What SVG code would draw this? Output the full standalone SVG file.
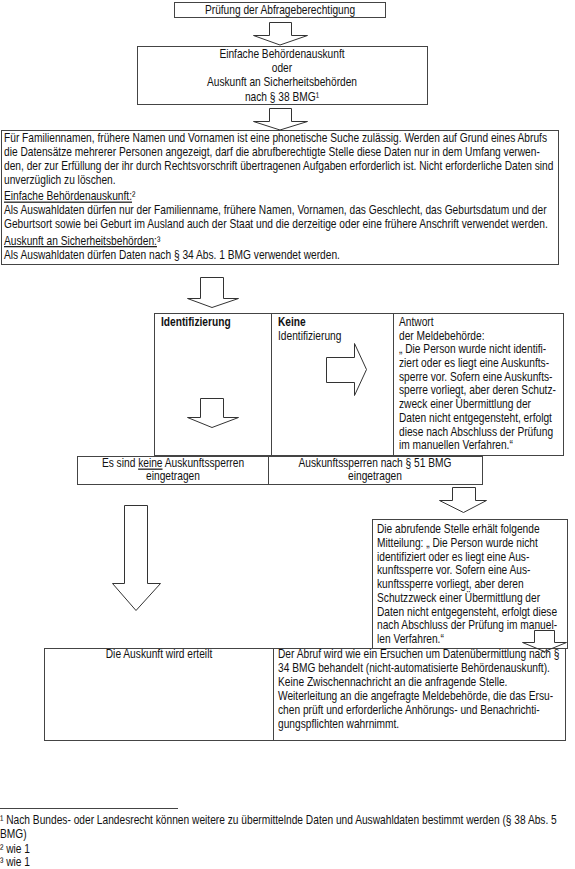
<svg xmlns="http://www.w3.org/2000/svg" width="575" height="869" viewBox="0 0 575 869">
<style>
text{font-family:"Liberation Sans Narrow","Arial Narrow","Liberation Sans",sans-serif;font-size:12px;fill:#111}
.c{text-anchor:middle}
.b{font-weight:bold}
.u{text-decoration:underline}
.box{fill:#fff;stroke:#444;stroke-width:1}
.arr{fill:#fff;stroke:#333;stroke-width:1}
.arrn{fill:none;stroke:#333;stroke-width:1}
</style>
<rect width="575" height="869" fill="#fff"/>
<g id="n-pruefung">
<rect class="box" x="174.5" y="2.5" width="211" height="15"/>
<g transform="scale(0.85 1)">
<text class="c" x="329.41" y="14">Prüfung der Abfrageberechtigung</text>
</g>
</g>
<g id="n-auskunftsart">
<rect class="box" x="137.5" y="46.5" width="290" height="58"/>
<g transform="scale(0.85 1)">
<text class="c" x="331.76" y="58">Einfache Behördenauskunft</text>
<text class="c" x="331.76" y="72">oder</text>
<text class="c" x="331.76" y="86.5">Auskunft an Sicherheitsbehörden</text>
<text class="c" x="331.76" y="101">nach § 38 BMG¹</text>
</g>
</g>
<g id="n-suche">
<rect class="box" x="1.5" y="130.5" width="557" height="134"/>
<g transform="scale(0.85 1)">
<text x="4.71" y="142">Für Familiennamen, frühere Namen und Vornamen ist eine phonetische Suche zulässig. Werden auf Grund eines Abrufs</text>
<text x="4.71" y="156">die Datensätze mehrerer Personen angezeigt, darf die abrufberechtigte Stelle diese Daten nur in dem Umfang verwen-</text>
<text x="4.71" y="170">den, der zur Erfüllung der ihr durch Rechtsvorschrift übertragenen Aufgaben erforderlich ist. Nicht erforderliche Daten sind</text>
<text x="4.71" y="184">unverzüglich zu löschen.</text>
<text x="4.71" y="200.5"><tspan class="u">Einfache Behördenauskunft:</tspan>²</text>
<text x="4.71" y="214.5">Als Auswahldaten dürfen nur der Familienname, frühere Namen, Vornamen, das Geschlecht, das Geburtsdatum und der</text>
<text x="4.71" y="228.5">Geburtsort sowie bei Geburt im Ausland auch der Staat und die derzeitige oder eine frühere Anschrift verwendet werden.</text>
<text x="4.71" y="245"><tspan class="u">Auskunft an Sicherheitsbehörden:</tspan>³</text>
<text x="4.71" y="259">Als Auswahldaten dürfen Daten nach § 34 Abs. 1 BMG verwendet werden.</text>
</g>
</g>
<g id="n-identifizierung">
<rect class="box" x="154.5" y="313.5" width="117" height="142"/>
<g transform="scale(0.85 1)">
<text class="b" x="189.41" y="326">Identifizierung</text>
</g>
</g>
<g id="n-keine-identifizierung">
<rect class="box" x="271.5" y="313.5" width="122" height="142"/>
<g transform="scale(0.85 1)">
<text class="b" x="327.06" y="326">Keine</text>
<text x="327.06" y="340">Identifizierung</text>
</g>
</g>
<g id="n-antwort">
<rect class="box" x="393.5" y="313.5" width="170" height="142"/>
<g transform="scale(0.85 1)">
<text x="469.41" y="326">Antwort</text>
<text x="469.41" y="339.7">der Meldebehörde:</text>
<text x="469.41" y="353.4">„ Die Person wurde nicht identifi-</text>
<text x="469.41" y="367.1">ziert oder es liegt eine Auskunfts-</text>
<text x="469.41" y="380.8">sperre vor. Sofern eine Auskunfts-</text>
<text x="469.41" y="394.5">sperre vorliegt, aber deren Schutz-</text>
<text x="469.41" y="408.2">zweck einer Übermittlung der</text>
<text x="469.41" y="421.9">Daten nicht entgegensteht, erfolgt</text>
<text x="469.41" y="435.6">diese nach Abschluss der Prüfung</text>
<text x="469.41" y="449.3">im manuellen Verfahren.“</text>
</g>
</g>
<g id="n-keine-sperren">
<rect class="box" x="77.5" y="456.5" width="191" height="28"/>
<g transform="scale(0.85 1)">
<text class="c" x="203.53" y="467.5">Es sind <tspan class="u">keine</tspan> Auskunftssperren</text>
<text class="c" x="203.53" y="480.5">eingetragen</text>
</g>
</g>
<g id="n-sperren">
<rect class="box" x="268.5" y="456.5" width="214" height="28"/>
<g transform="scale(0.85 1)">
<text class="c" x="441.18" y="467.5">Auskunftssperren nach § 51 BMG</text>
<text class="c" x="441.18" y="480.5">eingetragen</text>
</g>
</g>
<g id="n-mitteilung">
<rect class="box" x="372.5" y="519.5" width="195" height="129"/>
<g transform="scale(0.85 1)">
<text x="443.53" y="533">Die abrufende Stelle erhält folgende</text>
<text x="443.53" y="547">Mitteilung: „ Die Person wurde nicht</text>
<text x="443.53" y="561">identifiziert oder es liegt eine Aus-</text>
<text x="443.53" y="574.5">kunftssperre vor. Sofern eine Aus-</text>
<text x="443.53" y="588">kunftssperre vorliegt, aber deren</text>
<text x="443.53" y="602">Schutzzweck einer Übermittlung der</text>
<text x="443.53" y="616">Daten nicht entgegensteht, erfolgt diese</text>
<text x="443.53" y="629.5">nach Abschluss der Prüfung im manuel-</text>
<text x="443.53" y="643">len Verfahren.“</text>
</g>
</g>
<g id="n-erteilt">
<rect class="box" x="44.5" y="648.5" width="229" height="92"/>
<g transform="scale(0.85 1)">
<text class="c" x="187.06" y="658">Die Auskunft wird erteilt</text>
</g>
</g>
<g id="n-ersuchen">
<rect class="box" x="273.5" y="648.5" width="292" height="92"/>
<g transform="scale(0.85 1)">
<text x="327.06" y="658">Der Abruf wird wie ein Ersuchen um Datenübermittlung nach §</text>
<text x="327.06" y="672">34 BMG behandelt (nicht-automatisierte Behördenauskunft).</text>
<text x="327.06" y="686">Keine Zwischennachricht an die anfragende Stelle.</text>
<text x="327.06" y="700">Weiterleitung an die angefragte Meldebehörde, die das Ersu-</text>
<text x="327.06" y="714">chen prüft und erforderliche Anhörungs- und Benachrichti-</text>
<text x="327.06" y="728">gungspflichten wahrnimmt.</text>
</g>
</g>
<g id="connectors">
<path class="arr" d="M269.5,22.5 H291.5 V35.5 H307.5 L280,45 L253.5,35.5 H269.5 Z"/>
<path class="arr" d="M269.5,108.5 H291.5 V121.5 H307.5 L280,130 L253.5,121.5 H269.5 Z"/>
<path class="arr" d="M200.5,277.5 H223.5 V298.5 H238.5 L212,307.5 L187.5,298.5 H200.5 Z"/>
<path class="arr" d="M200.5,398.5 H223.5 V417.5 H238.5 L212,427.5 L187.5,417.5 H200.5 Z"/>
<path class="arr" d="M326.5,357.5 H354.5 V343.5 L366.5,369.5 L354.5,395.5 V382.5 H326.5 Z"/>
<path class="arr" d="M452.5,487.5 H475.5 V500.5 H486.5 L463.5,512.5 L439.5,500.5 H452.5 Z"/>
<path class="arr" d="M124.5,505.5 H147.5 V583.5 H160.5 L136,610.5 L112.5,583.5 H124.5 Z"/>
<path class="arrn" d="M534.5,630.5 H554.5 V642.5 H566.5 L544.5,651.5 L522.5,642.5 H534.5 Z"/>
</g>
<g id="footnotes">
<line x1="0" y1="808.5" x2="178" y2="808.5" stroke="#444" stroke-width="1"/>
<g transform="scale(0.85 1)">
<text x="0" y="824">¹ Nach Bundes- oder Landesrecht können weitere zu übermittelnde Daten und Auswahldaten bestimmt werden (§ 38 Abs. 5</text>
<text x="0" y="838.5">BMG)</text>
<text x="0" y="853">² wie 1</text>
<text x="0" y="866.5">³ wie 1</text>
</g>
</g>
</svg>
